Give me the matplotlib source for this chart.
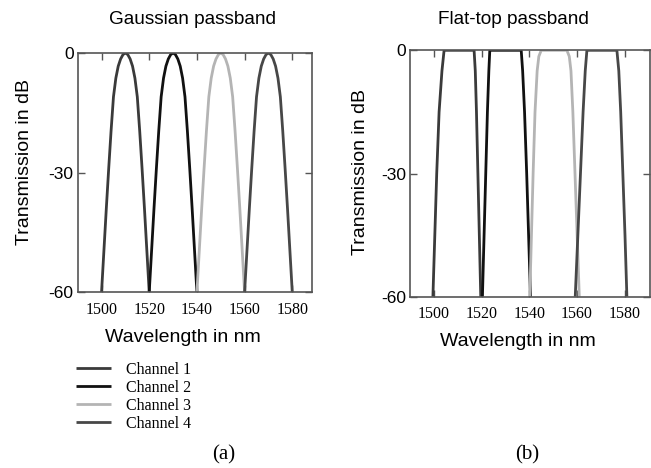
import matplotlib.pyplot as plt

W, H = 651, 468

# Gaussian passband: wavelength samples (nm) per channel and transmission (dB)
gauss_db = [-60, -49.5, -39, -29, -19.5, -11, -6.3, -3.3, -1.5, -0.4, 0,
            -0.4, -1.5, -3.3, -6.3, -11, -19.5, -29, -39, -49.5, -60]
gauss_ch1 = [1500, 1501, 1502, 1503, 1504, 1505, 1506, 1507, 1508, 1509, 1510,
             1511, 1512, 1513, 1514, 1515, 1516, 1517, 1518, 1519, 1520]
gauss_ch2 = [1520, 1521, 1522, 1523, 1524, 1525, 1526, 1527, 1528, 1529, 1530,
             1531, 1532, 1533, 1534, 1535, 1536, 1537, 1538, 1539, 1540]
gauss_ch3 = [1540, 1541, 1542, 1543, 1544, 1545, 1546, 1547, 1548, 1549, 1550,
             1551, 1552, 1553, 1554, 1555, 1556, 1557, 1558, 1559, 1560]
gauss_ch4 = [1560, 1561, 1562, 1563, 1564, 1565, 1566, 1567, 1568, 1569, 1570,
             1571, 1572, 1573, 1574, 1575, 1576, 1577, 1578, 1579, 1580]

# Flat-top passband
flat_db = [-60, -45, -30, -15, -5, 0, 0, -5, -15, -30, -45, -60]
flat_ch1 = [1499.5, 1500.3, 1501.1, 1502.1, 1503.3, 1504.2,
            1516.8, 1517.3, 1517.8, 1518.4, 1519.0, 1519.6]
flat_ch2 = [1520.3, 1521.0, 1521.7, 1522.4, 1523.0, 1523.4,
            1536.6, 1537.2, 1538.0, 1538.9, 1539.7, 1540.5]
flat_ch3_db = [-60, -45, -30, -15, -5, -1.5, 0, 0, -1.5, -5, -15, -30, -45, -60]
flat_ch3 = [1540.2, 1540.9, 1541.6, 1542.4, 1543.3, 1544.0, 1545.0,
            1555.8, 1556.8, 1557.5, 1558.3, 1559.2, 1560.1, 1561.0]
flat_ch4 = [1559.3, 1560.4, 1561.5, 1562.6, 1563.5, 1564.2,
            1576.8, 1577.6, 1578.4, 1579.3, 1580.2, 1581.0]

channels = ["Channel 1", "Channel 2", "Channel 3", "Channel 4"]
colors = ["#3a3a3a", "#111111", "#b4b4b4", "#474747"]
xticks = [1500, 1520, 1540, 1560, 1580]
yticks = [-60, -30, 0]

SANS = "Liberation Sans"
SERIF = "Liberation Serif"


def rect(x0, y0, x1, y1):
    return [x0 / W, 1 - y1 / H, (x1 - x0) / W, (y1 - y0) / H]


def style_axes(ax, xlim):
    ax.set_xlim(*xlim)
    ax.set_ylim(-60, 0)
    ax.set_xticks(xticks)
    ax.set_yticks(yticks)
    ax.set_yticklabels(["-60", "-30", "0"], fontfamily=SANS, fontsize=12.5)
    ax.set_xticklabels([str(t) for t in xticks], fontfamily=SERIF, fontsize=11.5)
    ax.tick_params(direction="in", length=5, width=1, color="#555555",
                   top=True, right=True)
    ax.tick_params(axis="x", pad=7)
    ax.tick_params(axis="y", pad=3)
    for s in ax.spines.values():
        s.set_color("#555555")
        s.set_linewidth(1.2)


fig = plt.figure(figsize=(W / 100, H / 100), dpi=100)

ax1 = fig.add_axes(rect(77.7, 53, 312.3, 292.3))
ax2 = fig.add_axes(rect(410.3, 50.3, 649.5, 296.7))

gauss = [gauss_ch1, gauss_ch2, gauss_ch3, gauss_ch4]
for wl, c, name in zip(gauss, colors, channels):
    ax1.plot(wl, gauss_db, color=c, lw=2.0, label=name, solid_capstyle="butt")

flats = [(flat_ch1, flat_db), (flat_ch2, flat_db), (flat_ch3, flat_ch3_db),
         (flat_ch4, flat_db)]
for (wl, db), c in zip(flats, colors):
    ax2.plot(wl, db, color=c, lw=2.0, solid_capstyle="butt")

style_axes(ax1, (1490, 1588.4))
style_axes(ax2, (1490, 1590.5))

# titles and axis labels
fig.text(193 / W, 1 - 20 / H, "Gaussian passband", ha="center", va="center",
         fontfamily=SANS, fontsize=13.7)
fig.text(513 / W, 1 - 20 / H, "Flat-top passband", ha="center", va="center",
         fontfamily=SANS, fontsize=13.7)
fig.text(25 / W, 1 - 162 / H, "Transmission in dB", rotation=90, ha="center",
         va="center", fontfamily=SANS, fontsize=14)
fig.text(360 / W, 1 - 172 / H, "Transmission in dB", rotation=90, ha="center",
         va="center", fontfamily=SANS, fontsize=14)
fig.text(183 / W, 1 - 337 / H, "Wavelength in nm", ha="center", va="center",
         fontfamily=SANS, fontsize=14)
fig.text(518 / W, 1 - 342 / H, "Wavelength in nm", ha="center", va="center",
         fontfamily=SANS, fontsize=14)

# legend
handles, labels = ax1.get_legend_handles_labels()
fig.legend(handles, labels, loc="upper left", bbox_to_anchor=(76 / W, 1 - 362 / H),
           frameon=False, prop={"family": SERIF, "size": 11.5}, handlelength=2.2,
           handletextpad=0.9, labelspacing=0.12, borderaxespad=0, borderpad=0)

fig.text(224 / W, 1 - 455 / H, "(a)", ha="center", va="center",
         fontfamily=SERIF, fontsize=15)
fig.text(527 / W, 1 - 455 / H, "(b)", ha="center", va="center",
         fontfamily=SERIF, fontsize=15)

fig.savefig("out.png", dpi=100)
